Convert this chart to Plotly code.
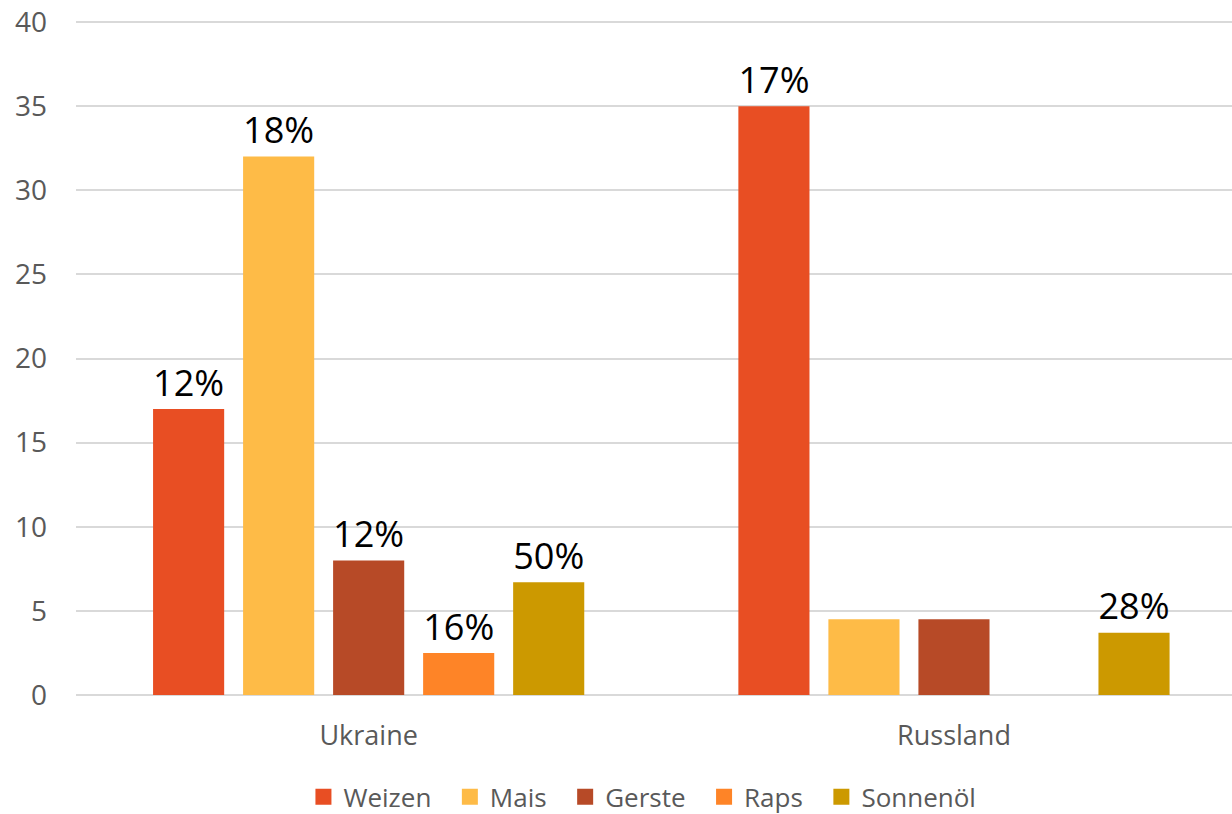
import plotly.graph_objects as go

# --- Data ---
countries = ["Ukraine", "Russland"]
crops = ["Weizen", "Mais", "Gerste", "Raps", "Sonnenöl"]
weizen = [17, 35]
mais = [32, 4.5]
gerste = [8, 4.5]
raps = [2.5, None]
sonnenoel = [6.7, 3.7]

# share of world exports (bar labels)
weizen_lbl = ["12%", "17%"]
mais_lbl = ["18%", ""]
gerste_lbl = ["12%", ""]
raps_lbl = ["16%", ""]
sonnenoel_lbl = ["50%", "28%"]

y_ticks = [0, 5, 10, 15, 20, 25, 30, 35, 40]

colors = ["#E84E23", "#FEBB47", "#B74A27", "#FE8427", "#CC9900"]
values = [weizen, mais, gerste, raps, sonnenoel]
labels = [weizen_lbl, mais_lbl, gerste_lbl, raps_lbl, sonnenoel_lbl]

fig = go.Figure()
for name, vals, lbl, col in zip(crops, values, labels, colors):
    fig.add_trace(go.Bar(
        x=countries,
        y=vals,
        name=name,
        text=lbl,
        textposition="outside",
        textfont=dict(family="Open Sans", size=42, color="black"),
        marker=dict(color=col, line=dict(width=0)),
        cliponaxis=False,
        showlegend=False,
    ))

# legend entries with larger square swatches
for i, (name, col) in enumerate(zip(crops, colors)):
    pad = "\u00a0\u00a0" if i < len(crops) - 1 else ""
    fig.add_trace(go.Scatter(
        x=[None], y=[None],
        mode="markers",
        name=name + pad,
        marker=dict(symbol="square", size=18, color=col),
    ))

# --- Layout ---
fig.update_layout(
    width=1232,
    height=814,
    barmode="group",
    bargap=0.231,
    bargroupgap=0.21,
    paper_bgcolor="white",
    plot_bgcolor="white",
    margin=dict(l=76, r=0, t=20, b=119, autoexpand=False),
    font=dict(family="Open Sans", size=27, color="#595959"),
    legend=dict(
        orientation="h",
        x=0.49, xanchor="center",
        y=-0.116, yanchor="top",
        font=dict(size=26, color="#595959"),
        itemwidth=30,
        traceorder="normal",
    ),
)

fig.update_xaxes(
    range=[-0.5, 1.475],
    automargin=False,
    showgrid=False,
    showline=False,
    ticks="",
    ticklabelstandoff=22,
    tickfont=dict(size=27, color="#595959"),
)

fig.update_yaxes(
    range=[0, 40.12],
    automargin=False,
    tickvals=y_ticks,
    showgrid=True,
    gridcolor="#D9D9D9",
    gridwidth=2,
    zeroline=True,
    zerolinecolor="#D9D9D9",
    zerolinewidth=2,
    showline=False,
    ticks="",
    ticklabelstandoff=28,
    ticklabeloverflow="allow",
    tickfont=dict(size=28, color="#595959"),
)

# drop the default page margin so the figure sits at the window's corner
fig.write_html(
    "out.html",
    config={"displayModeBar": False},
    post_script="document.body.style.margin='0';",
)
